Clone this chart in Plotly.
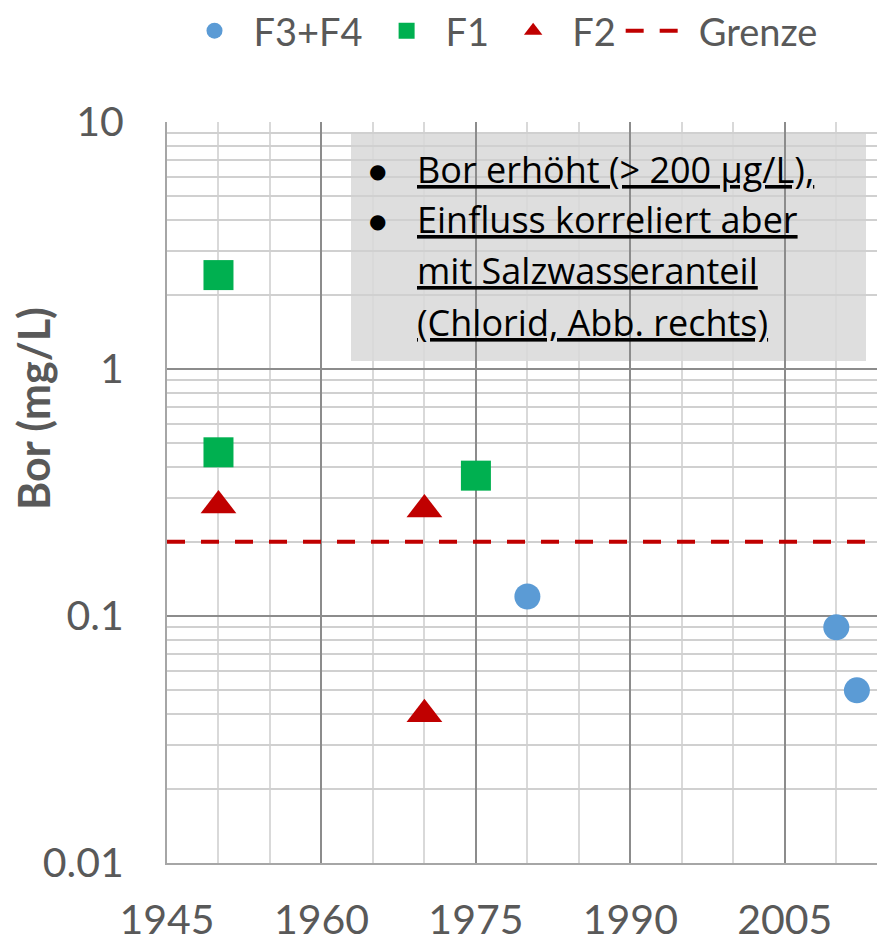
import plotly.graph_objects as go

# Data
f34_year = [1980, 2010, 2012]
f34_bor = [0.12, 0.09, 0.05]
f1_year = [1950, 1950, 1975]
f1_bor = [2.4, 0.46, 0.37]
f2_year = [1950, 1970, 1970]
f2_bor = [0.28, 0.27, 0.04]
grenze_year = [1945, 2015]
grenze_bor = [0.2, 0.2]

x_ticks = [1945, 1960, 1975, 1990, 2005]
y_ticks = [0.01, 0.1, 1, 10]
y_ticklabels = ["0.01", "0.1", "1", "10"]
y_minor = [k * 10 ** e for e in (-2, -1, 0) for k in range(2, 10)]

box_lines = ["Bor erhöht (> 200 µg/L),", "Einfluss korreliert aber",
             "mit Salzwasseranteil", "(Chlorid, Abb. rechts)"]
bullet_lines = [0, 1]

FONT = "Lato"
GRAY = "#595959"

fig = go.Figure()
fig.add_trace(go.Scatter(x=f34_year, y=f34_bor, mode="markers", name="F3+F4",
                         marker=dict(symbol="circle", size=26, color="#5B9BD5")))
fig.add_trace(go.Scatter(x=f1_year, y=f1_bor, mode="markers", name="F1",
                         marker=dict(symbol="square", size=30, color="#00B050")))
fig.add_trace(go.Scatter(x=f2_year, y=f2_bor, mode="markers", name="F2",
                         marker=dict(symbol="triangle-up", size=31, color="#C00000")))
fig.add_trace(go.Scatter(x=grenze_year, y=grenze_bor, mode="lines", name="Grenze",
                         line=dict(color="#C00000", width=4, dash="18px,16px")))

# page body has an 8px margin: work in screen pixels, offset by 8
OFF = 8
W, H = 885 - OFF, 948 - OFF
L, T, B, R = 167 - OFF, 122 - OFF, 863 - OFF, 885 - OFF


def px(x):
    return (x - OFF - L) / (R - L)


def py(y):
    return (B - (y - OFF)) / (B - T)


# annotation box
fig.add_shape(type="rect", xref="paper", yref="paper",
              x0=px(351), x1=px(866), y0=py(361), y1=py(134),
              fillcolor="#DEDEDE", line=dict(width=0), layer="below")

line_y = [169, 219, 270, 322]
for i, txt in enumerate(box_lines):
    fig.add_annotation(xref="paper", yref="paper",
                       x=px(415), y=py(line_y[i]),
                       xanchor="left", yanchor="middle", showarrow=False,
                       text="<u>" + txt + "</u>",
                       font=dict(family="Open Sans", size=36, color="black"))
for i in bullet_lines:
    fig.add_annotation(xref="paper", yref="paper",
                       x=px(377), y=py(line_y[i] + 2),
                       xanchor="center", yanchor="middle", showarrow=False,
                       text="●", font=dict(family="DejaVu Sans", size=20, color="black"))

# y-axis title
fig.add_annotation(xref="paper", yref="paper", x=px(33),
                   y=py(409), xanchor="center", yanchor="middle",
                   showarrow=False, textangle=-90, text="<b>Bor (mg/L)</b>",
                   font=dict(family=FONT, size=43, color=GRAY))

fig.update_layout(
    width=W, height=H,
    margin=dict(l=L, r=W - R, t=T, b=H - B, autoexpand=False),
    plot_bgcolor="white", paper_bgcolor="white",
    showlegend=True,
    legend=dict(orientation="h", x=px(499), xanchor="center", y=py(31),
                yanchor="middle", font=dict(family=FONT, size=38, color=GRAY),
                itemsizing="trace", tracegroupgap=0, itemwidth=68),
    xaxis=dict(range=[1945, 2014.73], tickvals=x_ticks, showgrid=True,
               gridcolor="#8C8C8C", gridwidth=1.5, automargin=False,
               minor=dict(dtick=5, tick0=1945, showgrid=True, gridcolor="#D9D9D9", gridwidth=1.5),
               showline=True, linecolor="#A6A6A6", linewidth=2,
               ticks="outside", ticklen=20, tickcolor="rgba(0,0,0,0)",
               tickfont=dict(family=FONT, size=41, color=GRAY), zeroline=False),
    yaxis=dict(type="log", range=[-2, 1], tickvals=y_ticks, ticktext=y_ticklabels,
               showgrid=True, gridcolor="#8C8C8C", gridwidth=1.5, automargin=False,
               minor=dict(tickvals=y_minor, showgrid=True, gridcolor="#D0D0D0", gridwidth=1.5),
               showline=True, linecolor="#A6A6A6", linewidth=2,
               ticks="outside", ticklen=33, tickcolor="rgba(0,0,0,0)",
               tickfont=dict(family=FONT, size=41, color=GRAY), zeroline=False),
)

fig.write_html("out.html")
